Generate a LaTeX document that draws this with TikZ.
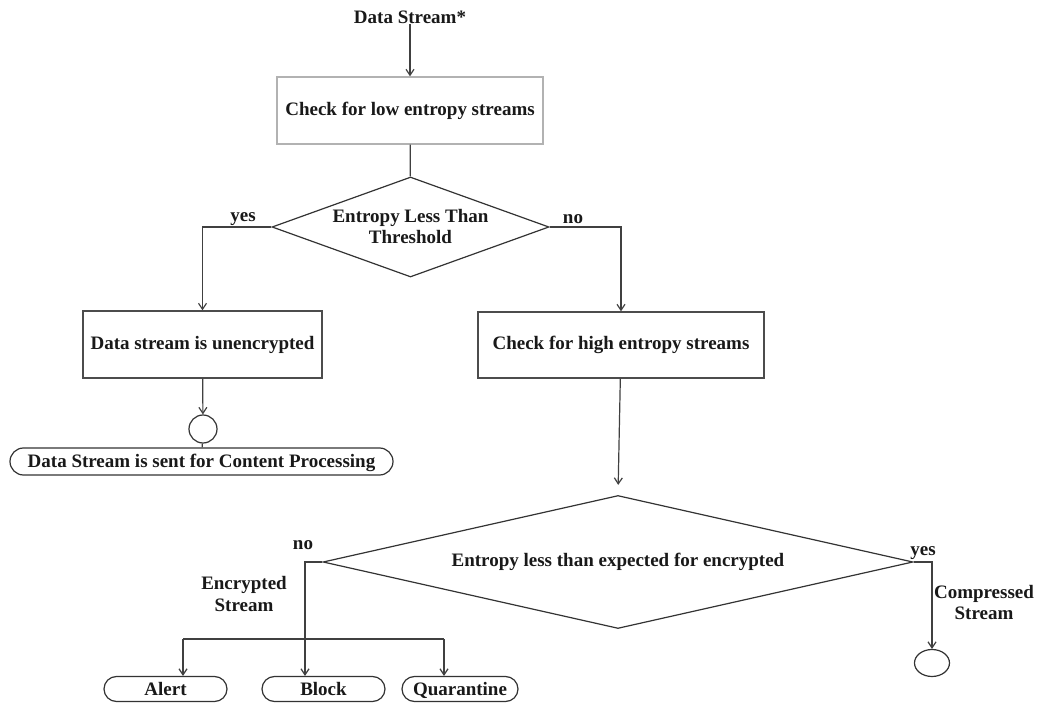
\documentclass[tikz,border=0pt]{standalone}
\usepackage{fontspec}
\setmainfont{Liberation Serif}
\usetikzlibrary{shapes.geometric,shapes.misc,arrows.meta}
\begin{document}
\begin{tikzpicture}[x=1pt,y=-1pt,
  every node/.style={font=\bfseries\fontsize{19}{21}\selectfont, text=black!90},
  conn/.style={draw=black!75, line width=1.2pt},
  arr/.style={conn, -{Straight Barb[length=6pt,width=8pt]}},
  procbox/.style={draw=black!70, line width=1.3pt, rectangle, inner sep=0pt},
  decision/.style={draw=black!80, line width=1.2pt, diamond, inner sep=0pt, align=center},
  terminal/.style={draw=black!80, line width=1.2pt, rounded rectangle, inner sep=0pt, text height=16pt, text depth=4pt},
  endpoint/.style={draw=black!80, line width=1.2pt, ellipse, inner sep=0pt},
  lbl/.style={inner sep=0pt, align=center}]
\useasboundingbox[fill=white] (0,0) rectangle (1037,703);
% nodes
\node[lbl] (ds) at (410,17) {Data Stream*};
\node[procbox, draw=black!30, minimum width=266, minimum height=67] (low) at (410,110.5) {Check for low entropy streams};
\node[decision, aspect=2.77, minimum width=277, minimum height=100] (d1) at (410.5,227) {Entropy Less Than\\Threshold};
\node[procbox, minimum width=239, minimum height=67] (unenc) at (202.5,344.5) {Data stream is unencrypted};
\node[procbox, minimum width=286, minimum height=66] (high) at (621,345) {Check for high entropy streams};
\node[endpoint, minimum width=28, minimum height=28] (c1) at (203,429) {};
\node[terminal, minimum width=383, minimum height=27] (content) at (201.5,461.5) {Data Stream is sent for Content Processing};
\node[decision, aspect=4.44, minimum width=590, minimum height=133] (d2) at (618,562) {Entropy less than expected for encrypted};
\node[terminal, minimum width=123, minimum height=25] (alert) at (165.5,689) {Alert};
\node[terminal, minimum width=123, minimum height=25] (block) at (323.5,689) {Block};
\node[terminal, minimum width=116, minimum height=25] (quar) at (460,689) {Quarantine};
\node[endpoint, minimum width=35, minimum height=27] (c2) at (932,663) {};
% labels
\node[lbl] (l1) at (243,219) {yes};
\node[lbl] (l2) at (573,219) {no};
\node[lbl] (l3) at (303,545) {no};
\node[lbl] (l4) at (244,594) {Encrypted\\Stream};
\node[lbl] (l5) at (923,553) {yes};
\node[lbl] (l6) at (984,603) {Compressed\\Stream};
% helper coordinates
\coordinate (nb) at (305,562);
\coordinate (bl) at (183,639);
\coordinate (bq) at (444,639);
\coordinate (ny) at (932,562);
% connectors
\draw[arr] (ds) -- (low);
\draw[conn] (low) -- (d1);
\draw[arr] (d1.west) -| (unenc.north);
\draw[arr] (d1.east) -| (high.north);
\draw[arr] (unenc) -- (c1);
\draw[conn] (c1) -- (content);
\draw[arr, shorten >=10pt] (high) -- (d2.north);
\draw[arr] (d2.west) -- (nb) -- (nb |- block.north);
\draw[conn] (bl) -- (bq);
\draw[arr] (bl) -- (bl |- alert.north);
\draw[arr] (bq) -- (bq |- quar.north);
\draw[arr] (d2.east) -- (ny) -- (c2.north);
\end{tikzpicture}
\end{document}
